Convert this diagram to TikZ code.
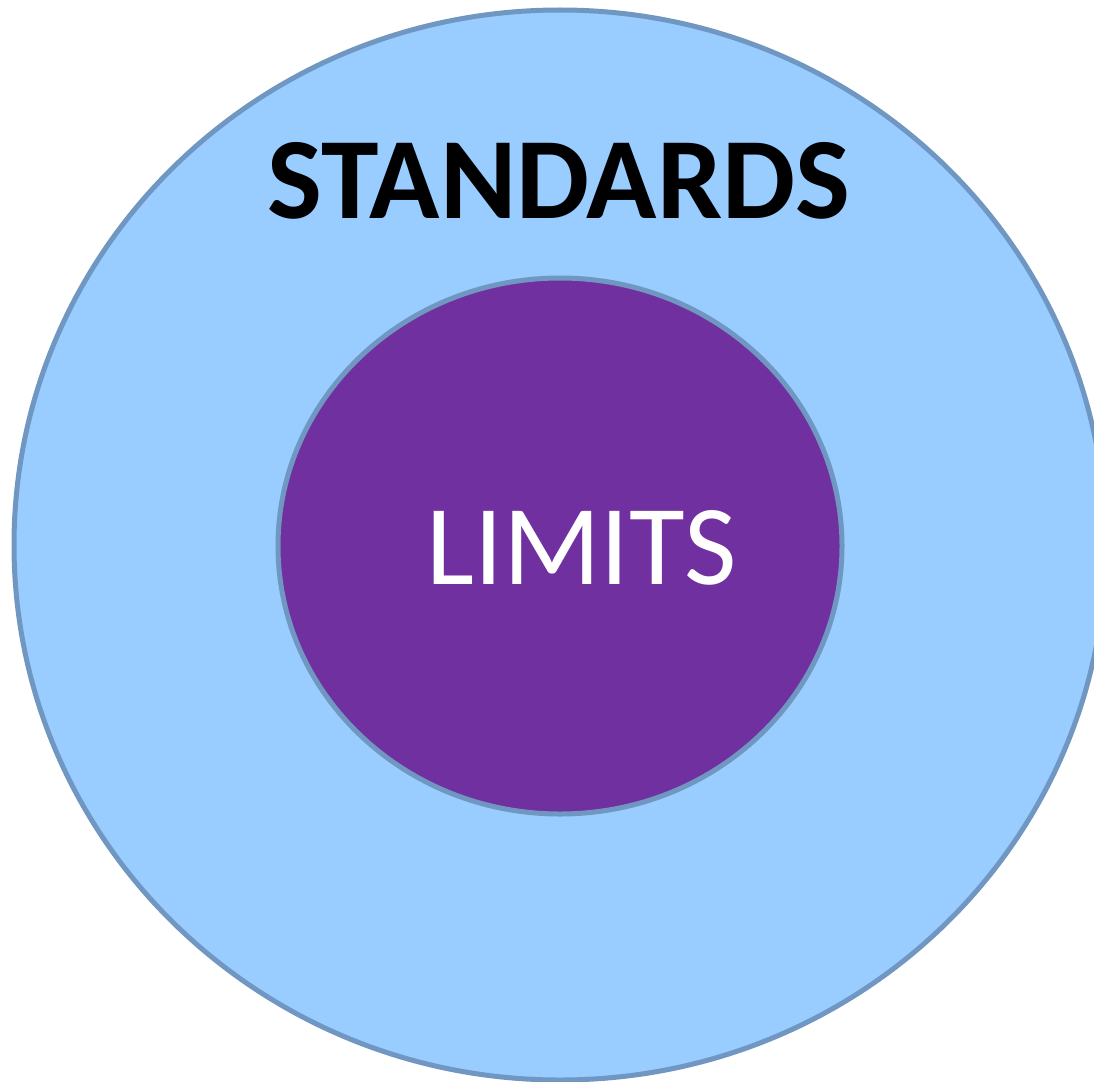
\documentclass[tikz,border=0pt]{standalone}
\usepackage{fontspec}
\setmainfont{Carlito}
\definecolor{skyfill}{HTML}{99CCFF}
\definecolor{rimblue}{HTML}{6F97C2}
\definecolor{plum}{HTML}{7030A0}
\begin{document}
\begin{tikzpicture}[x=1pt,y=-1pt,
  ring/.style={draw=rimblue,line width=5pt},
  label/.style={inner sep=0pt,anchor=base}]
\useasboundingbox (0,0) rectangle (1094,1081);
\begin{scope}
\clip (0,0) rectangle (1094,1081);
\fill[white] (0,0) rectangle (1094,1081);
\draw[ring,fill=skyfill] (560,545) ellipse [x radius=546,y radius=535];
\draw[ring,fill=plum] (560,546) ellipse [x radius=282,y radius=268];
\node[label,font=\fontsize{116}{116}\selectfont\bfseries] (std) at (559,218) {STANDARDS};
\node[label,font=\fontsize{114}{114}\selectfont,text=white] (lim) at (582,584) {LIMITS};
\end{scope}
\end{tikzpicture}
\end{document}
